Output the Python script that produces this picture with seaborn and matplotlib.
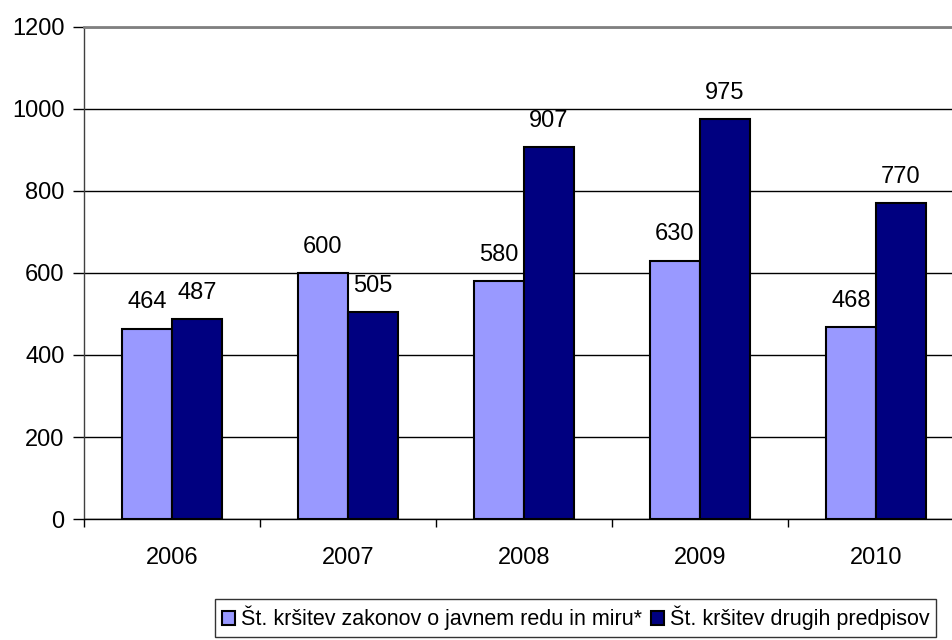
import pandas as pd
import matplotlib
matplotlib.use("Agg")
import matplotlib.pyplot as plt
import seaborn as sns

# data
years = ["2006", "2007", "2008", "2009", "2010"]
javni_red = [464, 600, 580, 630, 468]
drugi_predpisi = [487, 505, 907, 975, 770]
series_names = ["Št. kršitev zakonov o javnem redu in miru*", "Št. kršitev drugih predpisov"]

df = pd.DataFrame({
    "leto": years * 2,
    "vrednost": javni_red + drugi_predpisi,
    "serija": [series_names[0]] * len(years) + [series_names[1]] * len(years),
})

sns.set_style("white")
plt.rcParams['font.family'] = ['Liberation Sans', 'DejaVu Sans']
plt.rcParams['text.color'] = 'black'
plt.rcParams['xtick.color'] = 'black'
plt.rcParams['ytick.color'] = 'black'

fig = plt.figure(figsize=(9.53, 6.4), dpi=100)
ax = fig.add_axes([0.0881, 0.189, 0.9234, 0.769])

sns.barplot(data=df, x="leto", y="vrednost", hue="serija",
            palette=["#9999FF", "#000080"], edgecolor="black", linewidth=1.5,
            width=0.57, gap=0, saturation=1, ax=ax, legend=True)

for cont in ax.containers:
    ax.bar_label(cont, padding=11, fontsize=17, color="black")

ax.set_ylim(0, 1200)
ax.set_xlim(-0.5, 4.5)
ax.set_yticks(range(0, 1201, 200))
ax.set_xlabel("")
ax.set_ylabel("")
ax.yaxis.grid(True, color="black", linewidth=1)
ax.set_axisbelow(True)

ax.set_xticks([i - 0.5 for i in range(6)], minor=True)
ax.tick_params(axis="x", which="major", length=0, pad=20, labelsize=17)
ax.tick_params(axis="x", which="minor", length=6, width=1, color="black", direction="out", bottom=True)
ax.tick_params(axis="y", length=8, width=1, color="black", direction="out", left=True, labelsize=17, pad=6)

ax.spines["left"].set_color("#404040")
ax.spines["left"].set_linewidth(1)
ax.spines["bottom"].set_color("black")
ax.spines["bottom"].set_linewidth(1)
ax.spines["top"].set_color("#808080")
ax.spines["top"].set_linewidth(2)
ax.spines["right"].set_visible(False)

handles, labels = ax.get_legend_handles_labels()
ax.get_legend().remove()
leg = fig.legend(handles, labels, loc="lower center", bbox_to_anchor=(0.604, 0.005),
                 ncol=2, fontsize=15.5, frameon=True, fancybox=False, edgecolor="black",
                 handlelength=0.6, handleheight=0.6, handletextpad=0.3, columnspacing=0.4,
                 borderpad=0.3, borderaxespad=0)
leg.get_frame().set_linewidth(1)

fig.savefig("out.png", dpi=100)
plt.close(fig)
